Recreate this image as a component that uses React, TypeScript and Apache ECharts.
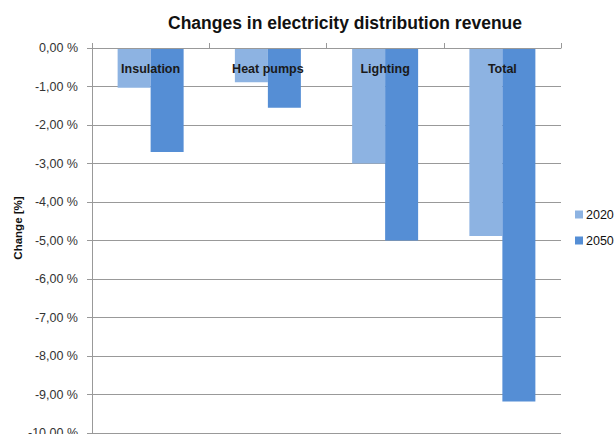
import React, { useEffect, useRef } from "react";
import * as echarts from "echarts";

const categories = ["Insulation", "Heat pumps", "Lighting", "Total"];
const series2020 = [-1.03, -0.89, -3.0, -4.88];
const series2050 = [-2.7, -1.55, -5.0, -9.18];
const seriesNames = ["2020", "2050"];
const yTicks = { min: -10, max: 0, interval: 1 };
const yAxisTitle = "Change [%]";

const FONT = "'Liberation Sans', Arial, sans-serif";

export default function App() {
  const ref = useRef<HTMLDivElement>(null);
  useEffect(() => {
    if (!ref.current) return;
    const chart = echarts.init(ref.current, undefined, { renderer: "svg" });
    chart.setOption({
      animation: false,
      backgroundColor: "#ffffff",
      title: {
        text: "Changes in electricity distribution revenue",
        left: 340,
        textAlign: "center",
        top: 9,
        textStyle: { fontFamily: FONT, fontSize: 17.5, fontWeight: "bold", color: "#111" },
      },
      legend: {
        orient: "vertical",
        left: 570,
        top: 203,
        itemWidth: 8,
        itemHeight: 8,
        itemGap: 13,
        icon: "rect",
        data: seriesNames,
        textStyle: { fontFamily: FONT, fontSize: 12.5, color: "#111", padding: [0, 0, 0, -2] },
      },
      graphic: [
        {
          type: "text",
          x: 18,
          y: 228,
          rotation: Math.PI / 2,
          style: {
            text: yAxisTitle,
            fontFamily: FONT,
            fontSize: 11.5,
            fontWeight: "bold",
            fill: "#111",
            align: "center",
            verticalAlign: "middle",
          },
        },
      ],
      grid: { left: 92, top: 48, right: 55, bottom: 1, containLabel: false, outerBoundsMode: "none" },
      xAxis: {
        type: "category",
        data: categories,
        position: "top",
        z: 10,
        axisLine: { onZero: false, lineStyle: { color: "#999", width: 1 } },
        axisTick: { show: true, length: 5, inside: false, lineStyle: { color: "#999" } },
        axisLabel: {
          inside: true,
          margin: 14,
          fontFamily: FONT,
          fontSize: 12.5,
          fontWeight: "bold",
          color: "#1a1a1a",
        },
      },
      yAxis: {
        type: "value",
        min: yTicks.min,
        max: yTicks.max,
        interval: yTicks.interval,
        axisLine: { show: true, lineStyle: { color: "#999" } },
        axisTick: { show: true, length: 5, lineStyle: { color: "#999" } },
        splitLine: { show: true, lineStyle: { color: "#999", width: 1 } },
        axisLabel: {
          margin: 14,
          fontFamily: FONT,
          fontSize: 12.5,
          color: "#333",
          formatter: (v: number) => v.toFixed(2).replace(".", ",") + " %",
        },
      },
      series: [
        {
          name: seriesNames[0],
          type: "bar",
          data: series2020,
          barWidth: 33,
          barGap: "0%",
          itemStyle: { color: "#8DB3E2" },
        },
        {
          name: seriesNames[1],
          type: "bar",
          data: series2050,
          barWidth: 33,
          barGap: "0%",
          itemStyle: { color: "#558ED5" },
        },
      ],
    });
    return () => chart.dispose();
  }, []);
  return (
    <div
      ref={ref}
      style={{ position: "fixed", left: 0, top: 0, width: 616, height: 434 }}
    />
  );
}
